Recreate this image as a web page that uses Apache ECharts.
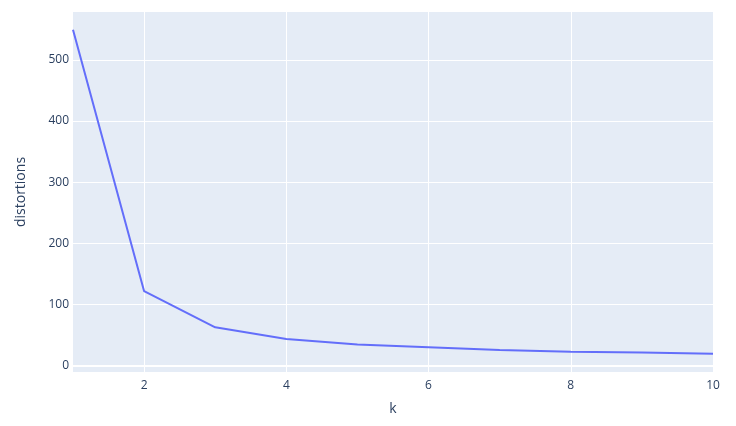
<!DOCTYPE html>
<html><head><meta charset="utf-8">
<script src="https://cdn.jsdelivr.net/npm/echarts@6/dist/echarts.min.js"></script>
<style>html,body{margin:0;padding:0;background:#fff}#c{width:736px;height:426px}</style>
</head><body><div id="c"></div>
<script>
const kValues = [1, 2, 3, 4, 5, 6, 7, 8, 9, 10];
const distortions = [549, 122, 63, 44, 35, 30.5, 26, 23, 21.8, 20];
const xTicks = [2, 4, 6, 8, 10];
const yTicks = [100, 200, 300, 400, 500];

const FONT = '"Open Sans", Verdana, Arial, sans-serif';
const chart = echarts.init(document.getElementById('c'));
const grid = 'rgba(255,255,255,1)';
const gridMarks = [];
xTicks.forEach(v => gridMarks.push({ xAxis: v, lineStyle: { color: grid, width: 1, type: 'solid' } }));
yTicks.forEach(v => gridMarks.push({ yAxis: v, lineStyle: { color: grid, width: 1, type: 'solid' } }));
gridMarks.push({ yAxis: 0, lineStyle: { color: grid, width: 2, type: 'solid' } });

chart.setOption({
  animation: false,
  grid: { left: 73, right: 23, top: 12, bottom: 54, show: true, backgroundColor: '#E5ECF6', borderWidth: 0 },
  xAxis: {
    type: 'value', min: 1, max: 10, interval: 1,
    name: 'k', nameLocation: 'middle', nameGap: 30,
    nameTextStyle: { fontFamily: FONT, fontSize: 14, color: '#2a3f5f' },
    axisLine: { show: false }, axisTick: { show: false }, splitLine: { show: false },
    axisLabel: { fontFamily: FONT, fontSize: 12, color: '#2a3f5f', margin: 8,
      formatter: v => (xTicks.indexOf(v) >= 0 ? String(v) : '') }
  },
  yAxis: {
    type: 'value', min: -10, max: 578, interval: 10,
    name: 'distortions', nameLocation: 'middle', nameGap: 45,
    nameTextStyle: { fontFamily: FONT, fontSize: 14, color: '#2a3f5f' },
    axisLine: { show: false }, axisTick: { show: false }, splitLine: { show: false },
    axisLabel: { fontFamily: FONT, fontSize: 12, color: '#2a3f5f', margin: 4,
      formatter: v => ((v === 0 || yTicks.indexOf(v) >= 0) ? String(v) : '') }
  },
  series: [
    { type: 'line', data: [], zlevel: 0, z: 1, silent: true,
      markLine: { silent: true, symbol: 'none', label: { show: false }, data: gridMarks, animation: false } },
    { type: 'line', zlevel: 1, z: 3, data: kValues.map((k, i) => [k, distortions[i]]),
      showSymbol: false, symbol: 'none', lineStyle: { color: '#636EFA', width: 2 } }
  ]
});
</script></body></html>
